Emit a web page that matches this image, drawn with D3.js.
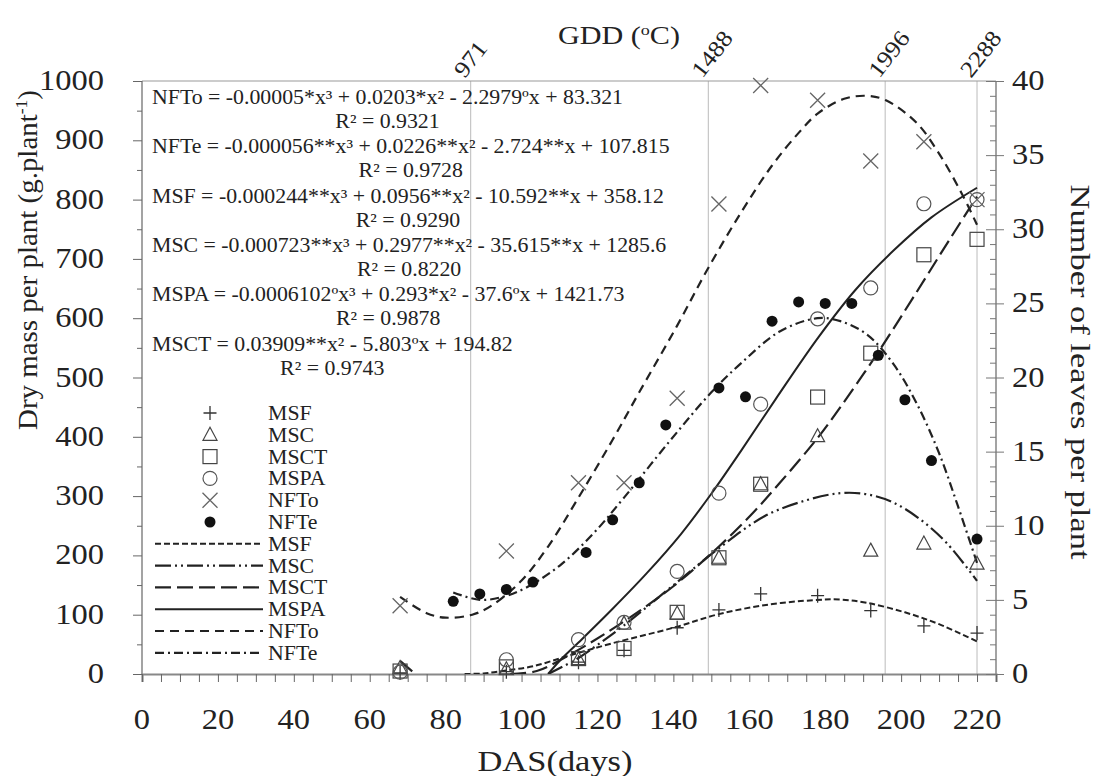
<!DOCTYPE html>
<html><head><meta charset="utf-8">
<script src="https://cdn.jsdelivr.net/npm/d3@7"></script>
</head>
<body style="margin:0;background:#fff">
<svg id="c" width="1099" height="776" style="display:block"></svg>
<script>
// ---------- data ----------
const dasMass = [68, 96, 115, 127, 141, 152, 163, 178, 192, 206, 220];
const MSF  = [2, 4, 20, 40, 78, 108, 135, 132, 107, 81, 69];
const MSC  = [10, 8, 25, 85, 102, 196, 320, 401, 208, 220, 186];
const MSCT = [5, 12, 26, 43, 104, 196, 320, 467, 541, 707, 733];
const MSPA = [3, 24, 58, 87, 173, 305, 455, 599, 651, 793, 800];
const NFTo = [4.6, 8.3, 12.9, 12.9, 18.6, 31.7, 39.7, 38.7, 34.6, 35.9, 32.0];
const dasNFTe = [82, 89, 96, 103, 117, 124, 131, 138, 152, 159, 166, 173, 180, 187, 194, 201, 208, 220];
const NFTe = [4.9, 5.4, 5.7, 6.2, 8.2, 10.4, 12.9, 16.8, 19.3, 18.7, 23.8, 25.1, 25.0, 25.0, 21.5, 18.5, 14.4, 9.1];

// fitted curves (day, value)
const fitNFToDays = [68, 75, 80, 87, 92, 100, 107, 115, 124, 131, 141, 149, 158, 166, 173, 178, 185, 191, 196, 204, 210, 216, 220];
const fitNFToVals = [5.2, 4.1, 3.8, 4.0, 4.6, 6.3, 8.6, 11.9, 15.8, 19.0, 23.5, 27.3, 31.2, 34.3, 36.5, 37.8, 38.8, 39.0, 38.7, 37.2, 35.1, 32.4, 30.3];
const fitNFTeDays = [82, 89, 95, 101, 110, 119, 127, 139, 150, 158, 168, 178, 184, 191, 198, 204, 210, 215, 220];
const fitNFTeVals = [5.5, 5.0, 5.2, 5.8, 7.3, 9.5, 11.9, 15.7, 19.0, 21.0, 23.1, 24.0, 23.8, 22.9, 20.9, 18.3, 14.9, 11.3, 7.5];
const fitMSFDays = [85, 90, 96, 103, 112, 124, 140, 152, 165, 177, 184, 191, 201, 210, 220];
const fitMSFVals = [0, 1, 6, 13, 30, 52, 78, 101, 117, 124.5, 125.6, 120, 104, 84, 55];
const fitMSCDays = [68, 72, null, 107, 115, 120, 127, 141, 152, 164, 175, 184, 191, 198, 205, 212, 220];
const fitMSCVals = [22, 0, null, 0, 27, 49, 82, 155, 212, 266, 293, 305, 303, 289, 261, 221, 157];
const fitMSCTDays = [97, 104, 112, 122, 131, 140, 152, 161, 168, 178, 184, 194, 203, 213, 220];
const fitMSCTVals = [0, 5, 30, 68, 106, 148, 215, 272, 322, 398, 450, 543, 633, 735, 805];
const fitMSPADays = [107, 110, 115, 124, 133, 142, 150, 158, 167, 178, 188, 198, 208, 220];
const fitMSPAVals = [0, 22, 53, 110, 170, 236, 304, 378, 464, 566, 648, 714, 770, 820];

const xTicks = [0, 20, 40, 60, 80, 100, 120, 140, 160, 180, 200, 220];
const yLeftTicks = [0, 100, 200, 300, 400, 500, 600, 700, 800, 900, 1000];
const yRightTicks = [0, 5, 10, 15, 20, 25, 30, 35, 40];
const gddLabels = ["971", "1488", "1996", "2288"];
const gddDays = [86.6, 149.2, 195.8, 220];

const equations = [
  ["NFTo = -0.00005*x³ + 0.0203*x² - 2.2979ºx + 83.321", "R² = 0.9321"],
  ["NFTe = -0.000056**x³ + 0.0226**x² - 2.724**x + 107.815", "R² = 0.9728"],
  ["MSF = -0.000244**x³ + 0.0956**x² - 10.592**x + 358.12", "R² = 0.9290"],
  ["MSC = -0.000723**x³ + 0.2977**x² - 35.615**x + 1285.6", "R² = 0.8220"],
  ["MSPA = -0.0006102ºx³ + 0.293*x² - 37.6ºx + 1421.73", "R² = 0.9878"],
  ["MSCT = 0.03909**x² - 5.803ºx + 194.82", "R² = 0.9743"]
];

// ---------- layout ----------
const FONT = '"Liberation Serif", serif';
const svg = d3.select("#c").style("font-family", FONT);
const X0 = 142, X1 = 996, Y0 = 674, Y1 = 81;
const x = d3.scaleLinear().domain([0, 225]).range([X0, X1]);
const yL = d3.scaleLinear().domain([0, 1000]).range([Y0, Y1]);
const yR = d3.scaleLinear().domain([0, 40]).range([Y0, Y1]);
const ink = "#222", axisCol = "#666";
const SX = 1.12; // horizontal stretch of the reference lettering
function T(parent) { return parent.append("text").style("font-family", FONT); }
function stretch(sel, f) {
  sel.each(function () {
    const w = this.getComputedTextLength();
    d3.select(this).attr("textLength", w * f).attr("lengthAdjust", "spacingAndGlyphs");
  });
}
function fitTo(sel, target) {
  const w = sel.node().getComputedTextLength();
  sel.attr("textLength", target).attr("lengthAdjust", "spacingAndGlyphs");
  return target / w;
}

svg.append("defs").append("clipPath").attr("id", "clip")
  .append("rect").attr("x", X0).attr("y", Y1).attr("width", X1 - X0).attr("height", Y0 - Y1);

// GDD grid lines
svg.append("g").selectAll("line").data(gddDays).join("line")
  .attr("x1", d => x(d)).attr("x2", d => x(d)).attr("y1", Y1).attr("y2", Y0)
  .attr("stroke", "#bbb").attr("stroke-width", 1);

// frame
svg.append("line").attr("x1", X0).attr("x2", X1).attr("y1", Y1).attr("y2", Y1).attr("stroke", "#999").attr("stroke-width", 1.2);
svg.append("line").attr("x1", X0).attr("x2", X0).attr("y1", Y1).attr("y2", Y0).attr("stroke", axisCol).attr("stroke-width", 1.2);
svg.append("line").attr("x1", X1).attr("x2", X1).attr("y1", Y1).attr("y2", Y0).attr("stroke", axisCol).attr("stroke-width", 1.2);

// bottom axis
const gx = svg.append("g").attr("transform", `translate(0,${Y0})`)
  .call(d3.axisBottom(x).tickValues(d3.range(0, 226, 5)).tickSize(8).tickFormat(""));
gx.select(".domain").attr("stroke", "#888").attr("stroke-width", 2.2);
gx.selectAll(".tick line").attr("stroke", "#666").attr("stroke-width", 1);
const xg = svg.append("g");
xTicks.forEach(d => {
  stretch(T(xg).attr("x", x(d)).attr("y", 729).attr("text-anchor", "middle")
    .attr("font-size", 29).attr("fill", ink).text(d), SX);
});
fitTo(T(svg).attr("x", 555).attr("y", 771).attr("text-anchor", "middle")
  .attr("font-size", 29).attr("fill", ink).text("DAS(days)"), 155);

// left axis
const gl = svg.append("g").attr("transform", `translate(${X0},0)`)
  .call(d3.axisLeft(yL).tickValues(d3.range(0, 1001, 50)).tickSize(7).tickFormat(""));
gl.select(".domain").remove();
gl.selectAll(".tick line").attr("stroke", "#666").attr("x2", d => d % 100 === 0 ? -9 : -5);
const ylg = svg.append("g");
yLeftTicks.forEach(d => {
  stretch(T(ylg).attr("x", 104).attr("y", yL(d) + 9).attr("text-anchor", "end")
    .attr("font-size", 29).attr("fill", ink).text(d), SX);
});
const lt = T(svg).attr("transform", "translate(37,260) rotate(-90)")
  .attr("text-anchor", "middle").attr("font-size", 28).attr("fill", ink);
lt.append("tspan").text("Dry mass per plant (g.plant");
lt.append("tspan").attr("font-size", 17).attr("dy", -10).text("-1");
lt.append("tspan").attr("dy", 10).text(")");
fitTo(lt, 340);

// right axis
const gr = svg.append("g").attr("transform", `translate(${X1},0)`)
  .call(d3.axisLeft(yR).tickValues(d3.range(0, 41, 1)).tickSize(6).tickFormat(""));
gr.select(".domain").remove();
gr.selectAll(".tick line").attr("stroke", "#777")
  .attr("x1", d => d % 5 === 0 ? 8 : 0).attr("x2", d => d % 5 === 0 ? -10 : -6);
const yrg = svg.append("g");
yRightTicks.forEach(d => {
  stretch(T(yrg).attr("x", 1012).attr("y", yR(d) + 9).attr("text-anchor", "start")
    .attr("font-size", 29).attr("fill", ink).text(d), SX);
});
fitTo(T(svg).attr("transform", "translate(1071,372) rotate(90)")
  .attr("text-anchor", "middle").attr("font-size", 28).attr("fill", ink)
  .text("Number of leaves per plant"), 375);

// top GDD axis
const gg = svg.append("g");
gddLabels.forEach((d, i) => {
  stretch(T(gg).attr("transform", `translate(${x(gddDays[i]) - 6},79) rotate(-52)`)
    .attr("font-size", 23).attr("fill", ink).text(d), SX);
});
const tt = T(svg).attr("x", 619).attr("y", 44).attr("text-anchor", "middle")
  .attr("font-size", 25).attr("fill", ink);
tt.append("tspan").text("GDD (");
tt.append("tspan").attr("font-size", 15).attr("dy", -9).text("o");
tt.append("tspan").attr("dy", 9).text("C)");
fitTo(tt, 122);

// equations
const eq = svg.append("g").attr("font-size", 20).attr("fill", ink);
let eqF = 1;
equations.forEach((e, i) => {
  const y0 = 104 + i * 49.3;
  const t = T(eq).attr("x", 152).attr("y", y0).text(e[0]);
  const w = t.node().getComputedTextLength();
  if (i === 0) eqF = 471 / w;
  t.attr("textLength", w * eqF).attr("lengthAdjust", "spacingAndGlyphs");
  const r = T(eq).attr("x", 152 + w * eqF / 2).attr("y", y0 + 24).attr("text-anchor", "middle").text(e[1]);
  stretch(r, eqF);
});

// ---------- curves ----------
const styles = {
  MSF:  {dash: "6,3", w: 2},
  MSC:  {dash: "16,4,2,4,2,4", w: 2.2},
  MSCT: {dash: "16,6", w: 2.2},
  MSPA: {dash: null, w: 2},
  NFTo: {dash: "9,6", w: 2.2},
  NFTe: {dash: "9,4,2,4", w: 2.2}
};
const curves = [
  ["MSF", fitMSFDays, fitMSFVals, yL],
  ["MSC", fitMSCDays, fitMSCVals, yL],
  ["MSCT", fitMSCTDays, fitMSCTVals, yL],
  ["MSPA", fitMSPADays, fitMSPAVals, yL],
  ["NFTo", fitNFToDays, fitNFToVals, yR],
  ["NFTe", fitNFTeDays, fitNFTeVals, yR]
];
const cg = svg.append("g").attr("clip-path", "url(#clip)");
curves.forEach(([name, ds, vs, ys]) => {
  const pts = ds.map((d, i) => [d, vs[i]]);
  const line = d3.line().defined(p => p[0] != null).x(p => x(p[0])).y(p => ys(p[1])).curve(d3.curveCatmullRom.alpha(0.5));
  cg.append("path").attr("d", line(pts)).attr("fill", "none").attr("stroke", ink)
    .attr("stroke-width", styles[name].w).attr("stroke-dasharray", styles[name].dash);
});

// ---------- markers ----------
const sym = {
  MSF: g => g.append("path").attr("d", "M-6.5,0H6.5M0,-7V7").attr("stroke", "#333").attr("stroke-width", 1.3).attr("fill", "none"),
  MSC: g => g.append("path").attr("d", "M0,-7.5L7,5.5H-7Z").attr("stroke", "#444").attr("stroke-width", 1.2).attr("fill", "none"),
  MSCT: g => g.append("rect").attr("x", -7).attr("y", -7).attr("width", 14).attr("height", 14).attr("stroke", "#444").attr("stroke-width", 1.2).attr("fill", "none"),
  MSPA: g => g.append("circle").attr("r", 7).attr("stroke", "#555").attr("stroke-width", 1.2).attr("fill", "none"),
  NFTo: g => g.append("path").attr("d", "M-7.5,-7.5L7.5,7.5M-7.5,7.5L7.5,-7.5").attr("stroke", "#666").attr("stroke-width", 1.3).attr("fill", "none"),
  NFTe: g => g.append("circle").attr("r", 5.5).attr("fill", "#111")
};
const series = [
  ["MSF", dasMass, MSF, yL], ["MSC", dasMass, MSC, yL], ["MSCT", dasMass, MSCT, yL],
  ["MSPA", dasMass, MSPA, yL], ["NFTo", dasMass, NFTo, yR], ["NFTe", dasNFTe, NFTe, yR]
];
const mg = svg.append("g");
series.forEach(([name, ds, vs, ys]) => {
  ds.forEach((d, i) => {
    const g = mg.append("g").attr("transform", `translate(${x(d)},${ys(vs[i])})`);
    sym[name](g);
  });
});

// ---------- legend ----------
const names = ["MSF", "MSC", "MSCT", "MSPA", "NFTo", "NFTe"];
const lg = svg.append("g").attr("font-size", 20).attr("fill", ink);
names.forEach((n, i) => {
  const yy = 413 + i * 21.8;
  sym[n](lg.append("g").attr("transform", `translate(210,${yy})`));
  stretch(T(lg).attr("x", 268).attr("y", yy + 7).text(n), eqF);
});
names.forEach((n, i) => {
  const yy = 413 + (i + 6) * 21.8;
  lg.append("line").attr("x1", 155).attr("x2", 263).attr("y1", yy).attr("y2", yy)
    .attr("stroke", ink).attr("stroke-width", styles[n].w).attr("stroke-dasharray", styles[n].dash);
  stretch(T(lg).attr("x", 268).attr("y", yy + 7).text(n), eqF);
});
</script>
</body></html>
